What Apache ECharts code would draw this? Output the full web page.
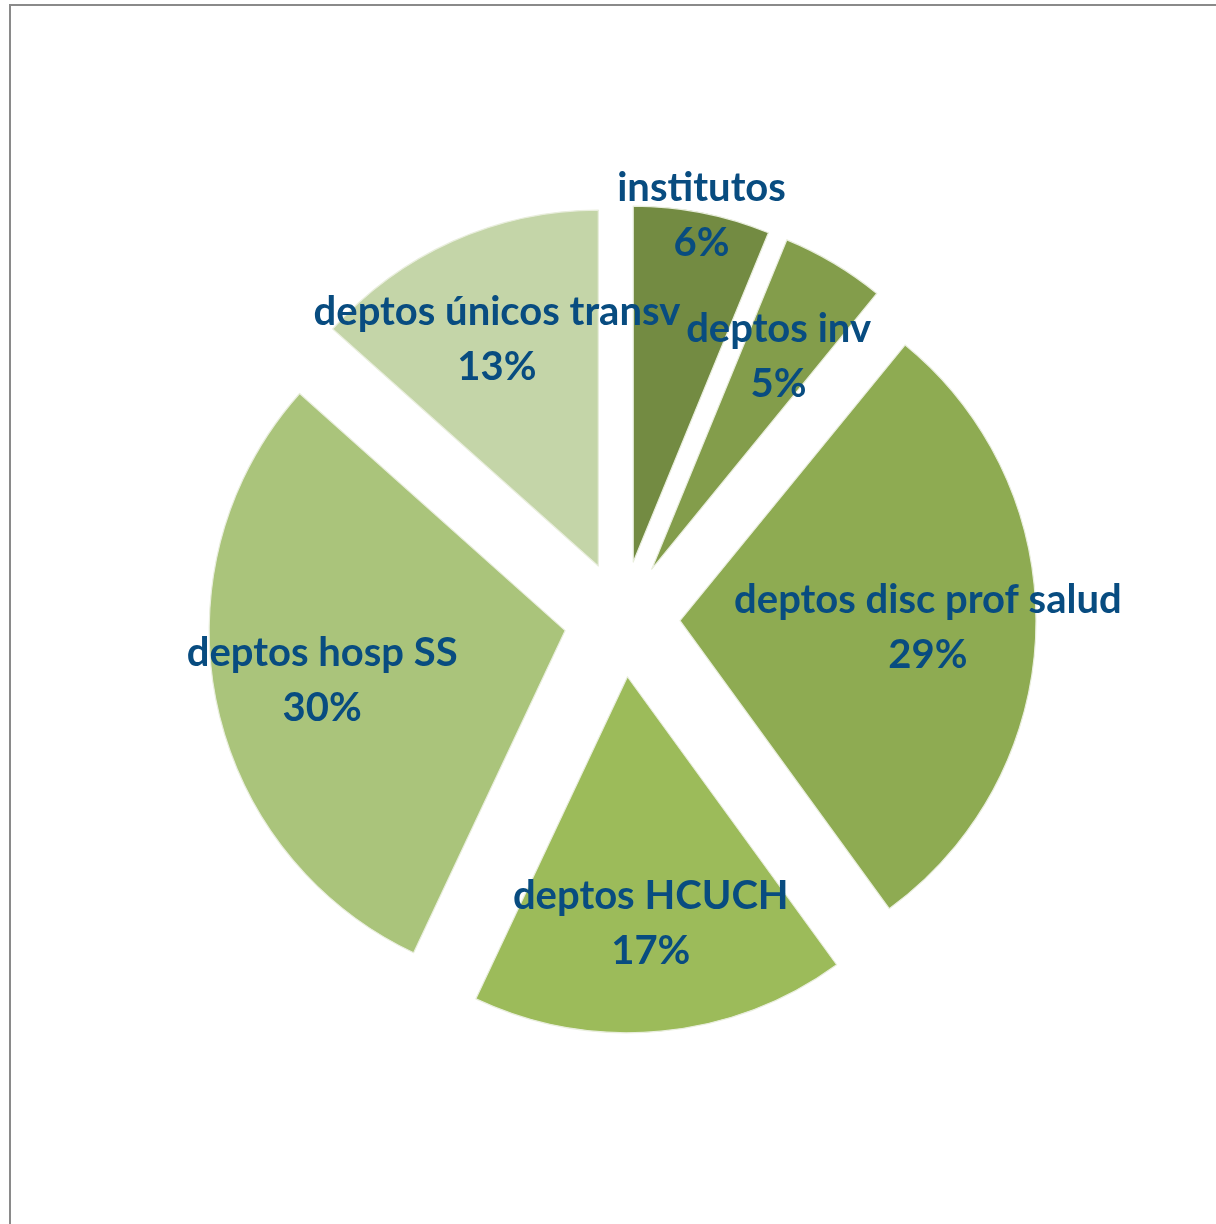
<!DOCTYPE html>
<html>
<head>
<meta charset="utf-8">
<script src="https://cdn.jsdelivr.net/npm/echarts@6/dist/echarts.min.js"></script>
<style>
html,body{margin:0;padding:0;background:#fff;}
#chart{width:1216px;height:1224px;}
</style>
</head>
<body>
<div id="chart"></div>
<script>
const categories = ['institutos', 'deptos inv', 'deptos disc prof salud', 'deptos HCUCH', 'deptos hosp SS', 'deptos únicos transv'];
const values = [6.2, 4.7, 29.1, 17.0, 29.6, 13.4];
const colors = ['#738B42', '#839D4B', '#8EAB52', '#9CBB5A', '#AAC47B', '#C4D5A8'];

const chart = echarts.init(document.getElementById('chart'));
const center = [622, 619];
const textColor = '#084C80';
const labelFont = {
  color: textColor,
  fontFamily: 'Lato',
  fontWeight: 'bold',
  fontSize: 40,
  lineHeight: 55
};
const fmt = p => p.name + '\n' + Math.round(p.percent) + '%';

const mainData = categories.map((c, i) => ({
  name: c, value: values[i], selected: true,
  itemStyle: { color: colors[i] }
}));
const labelData1 = categories.map((c, i) => ({
  name: c, value: values[i],
  label: { show: i !== 0 }
}));
const labelData2 = categories.map((c, i) => ({
  name: c, value: values[i],
  label: { show: i === 0 }
}));

chart.setOption({
  animation: false,
  graphic: [{
    type: 'rect', silent: true,
    shape: { x: 10, y: 5, width: 1400, height: 1400 },
    style: { fill: 'none', stroke: '#8a8a8a', lineWidth: 2 }
  }],
  series: [
    {
      type: 'pie',
      center: center,
      radius: [0, 356],
      startAngle: 90,
      clockwise: true,
      selectedMode: 'multiple',
      selectedOffset: 58,
      emphasis: { disabled: true },
      itemStyle: { borderColor: '#E9EEDD', borderWidth: 1.2 },
      label: { show: false },
      labelLine: { show: false },
      data: mainData,
      z: 1
    },
    {
      type: 'pie',
      center: center,
      radius: [293, 313],
      startAngle: 90,
      silent: true,
      emphasis: { disabled: true },
      itemStyle: { color: 'rgba(0,0,0,0)' },
      label: Object.assign({ position: 'inside', formatter: fmt }, labelFont),
      labelLine: { show: false },
      data: labelData1,
      z: 3
    },
    {
      type: 'pie',
      center: center,
      radius: [397, 419],
      startAngle: 90,
      silent: true,
      emphasis: { disabled: true },
      itemStyle: { color: 'rgba(0,0,0,0)' },
      label: Object.assign({ position: 'inside', formatter: fmt }, labelFont),
      labelLine: { show: false },
      data: labelData2,
      z: 3
    }
  ]
});
</script>
</body>
</html>
